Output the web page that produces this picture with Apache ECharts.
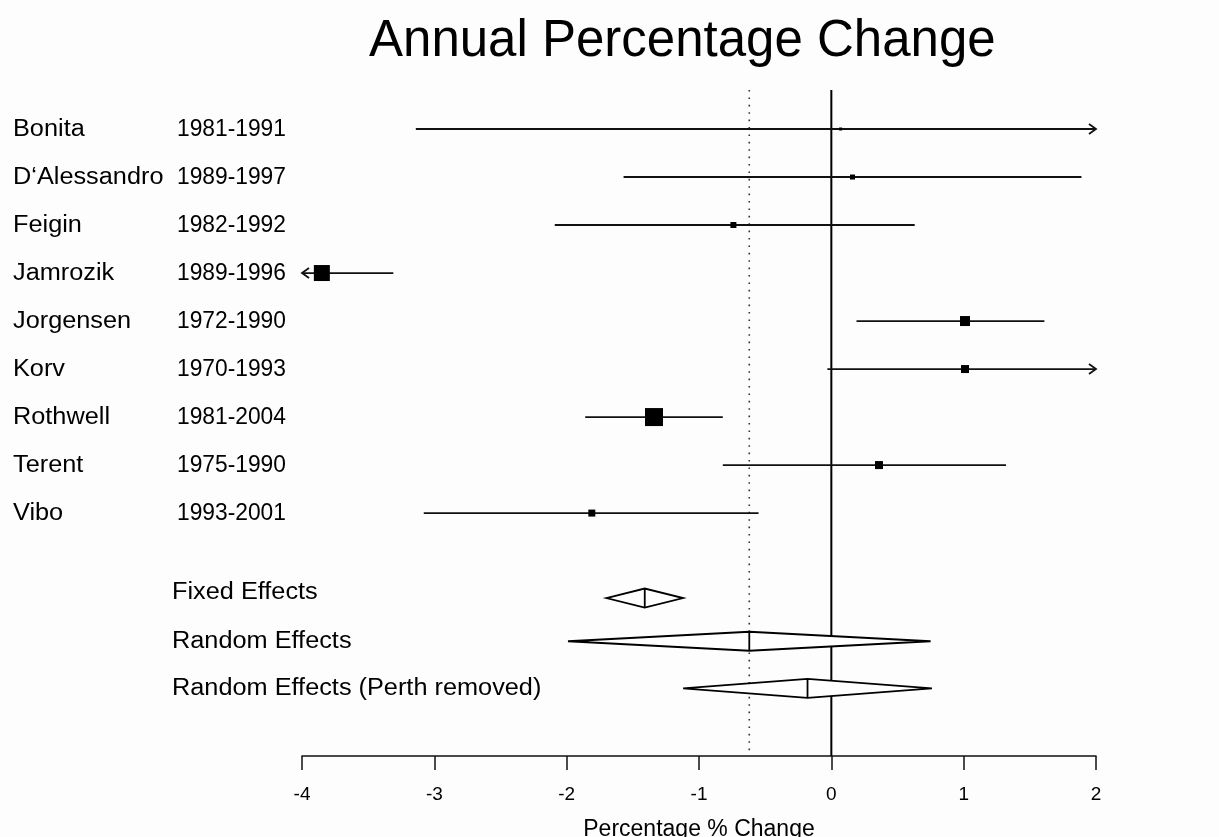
<!DOCTYPE html>
<html><head><meta charset="utf-8">
<script src="https://cdn.jsdelivr.net/npm/echarts@6/dist/echarts.min.js"></script>
<style>html,body{margin:0;padding:0;background:#fdfdfd;}#c{width:1219px;height:837px;}</style>
</head><body><div id="c"></div>
<script>
const studies = ['Bonita', 'D\u2018Alessandro', 'Feigin', 'Jamrozik', 'Jorgensen', 'Korv', 'Rothwell', 'Terent', 'Vibo'];
const periods = ['1981-1991', '1989-1997', '1982-1992', '1989-1996', '1972-1990', '1970-1993', '1981-2004', '1975-1990', '1993-2001'];
const estimates = [0.07, 0.16, -0.74, -3.85, 1.01, 1.01, -1.34, 0.36, -1.81];
const lowerCI = [-3.14, -1.57, -2.09, -4.3, 0.19, -0.03, -1.86, -0.82, -3.08];
const upperCI = [2.4, 1.89, 0.63, -3.31, 1.61, 2.3, -0.82, 1.32, -0.55];
const studyWeights = [1, 3, 4, 14, 8, 6, 16, 6, 5];

const pooledLabels = ['Fixed Effects', 'Random Effects', 'Random Effects (Perth removed)'];
const pooledEst = [-1.41, -0.62, -0.18];
const pooledLow = [-1.70, -1.99, -1.12];
const pooledHigh = [-1.12, 0.75, 0.76];
const pooledRows = [9.77, 10.67, 11.65];

const xTicks = [-4, -3, -2, -1, 0, 1, 2];
const X_MIN = -4, X_MAX = 2, Y_TOP = -0.8125, Y_BOT = 13.06;

const FONT = 'Liberation Sans, Arial, sans-serif';
const chart = echarts.init(document.getElementById('c'));

const studyData = studies.map((s, i) => [i, estimates[i], lowerCI[i], upperCI[i], studyWeights[i]]);
const pooledData = pooledLabels.map((s, i) => [pooledRows[i], pooledEst[i], pooledLow[i], pooledHigh[i]]);

function arrowHead(x, y, dir) {
  return {type: 'polyline', shape: {points: [[x - dir * 7, y - 5], [x, y], [x - dir * 7, y + 5]]},
    style: {stroke: '#111', lineWidth: 1.8, fill: null}};
}
function label(x, y, text, sx) {
  return {type: 'text', x: x, y: y, scaleX: sx, originX: 0, originY: 0,
    style: {x: 0, y: 0, text: text, fontFamily: FONT, fontSize: 23, fill: '#000', verticalAlign: 'middle'}};
}

option = {
  backgroundColor: '#fdfdfd',
  animation: false,
  title: {text: 'Annual Percentage Change', left: 364, top: 11,
    textStyle: {fontFamily: FONT, fontSize: 51, fontWeight: 'normal', color: '#000'}},
  grid: {left: 302, right: 123, top: 90, bottom: 81, outerBoundsMode: 'none', containLabel: false},
  xAxis: {type: 'value', min: X_MIN, max: X_MAX, interval: 1,
    axisLine: {show: true, onZero: false, lineStyle: {color: '#111', width: 1.5}},
    axisTick: {show: true, inside: false, length: 14, lineStyle: {color: '#111', width: 1.5}},
    axisLabel: {margin: 29, fontFamily: FONT, fontSize: 19, color: '#000',
      formatter: v => xTicks.includes(v) ? String(v) : ''},
    splitLine: {show: false},
    name: 'Percentage % Change', nameLocation: 'middle', nameGap: 62,
    nameTextStyle: {fontFamily: FONT, fontSize: 23, color: '#000'}},
  yAxis: {type: 'value', inverse: true, min: Y_TOP, max: Y_BOT, show: false},
  series: [
    {type: 'custom', data: [[0], [pooledEst[1]]], silent: true, z: 1,
      renderItem: (params, api) => {
        const v = api.value(0);
        const p1 = api.coord([v, Y_TOP]);
        const p2 = api.coord([v, Y_BOT]);
        const dotted = params.dataIndex === 1;
        return {type: 'line', shape: {x1: p1[0], y1: p1[1], x2: p2[0], y2: p2[1]},
          style: dotted ? {stroke: '#333', lineWidth: 1.6, lineDash: [1.6, 5.8]} : {stroke: '#000', lineWidth: 2}};
      }},
    {type: 'custom', data: studyData, silent: true, z: 3,
      renderItem: (params, api) => {
        const row = api.value(0), est = api.value(1), lo = api.value(2), hi = api.value(3), w = api.value(4);
        const cLo = Math.max(lo, X_MIN), cHi = Math.min(hi, X_MAX);
        const a = api.coord([cLo, row]), b = api.coord([cHi, row]), m = api.coord([est, row]);
        const size = w + 2;
        const y = a[1];
        const kids = [
          {type: 'line', shape: {x1: a[0], y1: y, x2: b[0], y2: y}, style: {stroke: '#111', lineWidth: 1.8}},
          {type: 'rect', shape: {x: m[0] - size / 2, y: y - size / 2, width: size, height: size}, style: {fill: '#000'}},
          label(13, y + 1, studies[params.dataIndex], 1.1),
          label(177, y + 1, periods[params.dataIndex], 0.99)
        ];
        if (lo < X_MIN) kids.push(arrowHead(a[0], y, -1));
        if (hi > X_MAX) kids.push(arrowHead(b[0], y, 1));
        return {type: 'group', children: kids};
      }},
    {type: 'custom', data: pooledData, silent: true, z: 3,
      renderItem: (params, api) => {
        const row = api.value(0), est = api.value(1), lo = api.value(2), hi = api.value(3);
        const a = api.coord([lo, row]), b = api.coord([hi, row]), m = api.coord([est, row]);
        const h = 9.5, y = a[1];
        return {type: 'group', children: [
          {type: 'polygon', shape: {points: [[a[0], y], [m[0], y - h], [b[0], y], [m[0], y + h]]},
            style: {fill: '#fff', stroke: '#000', lineWidth: 1.8}},
          {type: 'line', shape: {x1: m[0], y1: y - h, x2: m[0], y2: y + h}, style: {stroke: '#000', lineWidth: 1.8}},
          label(172, y - (params.dataIndex === 0 ? 5 : 0), pooledLabels[params.dataIndex], 1.1)
        ]};
      }}
  ]
};
chart.setOption(option);
</script></body></html>
